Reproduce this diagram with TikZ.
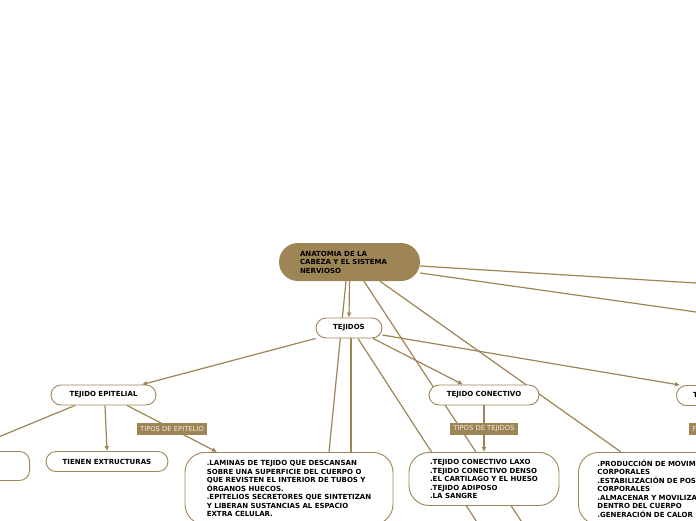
\documentclass[tikz,border=0pt]{standalone}
\usepackage{fontspec}
\setmainfont{DejaVu Sans}
\usetikzlibrary{arrows.meta,backgrounds}
\definecolor{bronze}{HTML}{9E8556}
\definecolor{cream}{HTML}{F1EBDD}

\begin{document}
\begin{tikzpicture}[
    x=1pt, y=-1pt,
    topic/.style={fill=bronze, rounded corners=19pt, align=left, text width=99pt, inner xsep=21pt, minimum height=38pt, font=\bfseries\fontsize{7}{8.5}\selectfont},
    box/.style={draw=bronze, line width=0.9pt, fill=white, rounded corners=10pt, minimum height=20pt, inner sep=2pt, font=\bfseries\fontsize{7}{8.5}\selectfont},
    note/.style={box, rounded corners=20pt, align=left},
    tag/.style={fill=bronze, text=cream, inner xsep=3.5pt, inner ysep=0pt, minimum height=12pt, font=\fontsize{6.8}{8}\selectfont},
    arrow/.style={-{Latex[length=5pt,width=5pt]}, line width=1.2pt, draw=bronze},
    link/.style={line width=1.2pt, draw=bronze}
]
\useasboundingbox (0,0) rectangle (696,520);

\node[topic] (anatomia) at (349.5,262) {ANATOMIA DE LA\\CABEZA Y EL SISTEMA\\NERVIOSO};
\node[box, minimum width=66pt] (tejidos) at (349,328) {TEJIDOS};
\node[box, minimum width=105pt] (epitelial) at (103.5,395) {TEJIDO EPITELIAL};
\node[box, minimum width=110pt] (conectivo) at (484,395) {TEJIDO CONECTIVO};
\node[box, minimum width=106pt, anchor=west] (muscular) at (676,395.5) {TEJIDO MUSCULAR};
\node[box, minimum width=130pt, minimum height=29pt, anchor=north east] (izquierda) at (30,451) {};
\node[box, minimum width=122pt] (tienen) at (107,461.5) {TIENEN EXTRUCTURAS};
\node[note, minimum width=208pt, minimum height=72pt, anchor=north] (laminas) at (289,452)
    {.LAMINAS DE TEJIDO QUE DESCANSAN\\SOBRE UNA SUPERFICIE DEL CUERPO O\\QUE REVISTEN EL INTERIOR DE TUBOS Y\\ÓRGANOS HUECOS.\\.EPITELIOS SECRETORES QUE SINTETIZAN\\Y LIBERAN SUSTANCIAS AL ESPACIO\\EXTRA CELULAR.};
\node[note, minimum width=150pt, minimum height=53pt, anchor=north] (tipos) at (484,452)
    {.TEJIDO CONECTIVO LAXO\\.TEJIDO CONECTIVO DENSO\\.EL CARTILAGO Y EL HUESO\\.TEJIDO ADIPOSO\\.LA SANGRE};
\node[note, text width=170pt, inner xsep=19pt, minimum height=72pt, anchor=north west] (funcion) at (578,452)
    {.PRODUCCIÓN DE MOVIMIENTOS\\CORPORALES\\.ESTABILIZACIÓN DE POSICIONES\\CORPORALES\\.ALMACENAR Y MOVILIZAR SUSTANCIAS\\DENTRO DEL CUERPO\\.GENERACIÓN DE CALOR};

\coordinate (fueraR1) at (720,284.5);
\coordinate (fueraR2) at (720,315.4);
\coordinate (fueraB1) at (482,530);
\coordinate (fueraB2) at (527,530);
\coordinate (fueraM) at (712,452);

\begin{scope}[on background layer]
\fill[white] (0,0) rectangle (696,520);
\draw[arrow] (anatomia.south) -- (tejidos.north);
\draw[link] ([xshift=-3.5pt]anatomia.south) -- ([xshift=40pt]laminas.north);
\draw[link] ([xshift=14.5pt]anatomia.south) -- (fueraB2);
\draw[link] ([xshift=30.5pt]anatomia.south) -- ([xshift=43pt]funcion.north west);
\draw[link] ([yshift=-4pt]anatomia.east) -- (fueraR1);
\draw[link] ([yshift=-11pt]anatomia.east) -- (fueraR2);
\draw[link] ([xshift=2pt]tejidos.south) -- ([xshift=62pt]laminas.north);
\draw[link] ([xshift=9pt]tejidos.south) -- (fueraB1);
\draw[arrow] (tejidos.south west) -- ([xshift=38.5pt]epitelial.north);
\draw[arrow] ([xshift=24pt]tejidos.south) -- ([xshift=-21pt]conectivo.north);
\draw[arrow] ([yshift=-7pt]tejidos.east) -- ([xshift=4pt]muscular.north west);
\draw[arrow] ([xshift=-28.5pt]epitelial.south) -- (izquierda.north);
\draw[arrow] ([xshift=1.5pt]epitelial.south) -- (tienen.north);
\draw[arrow] ([xshift=23.5pt]epitelial.south) -- node[tag] {TIPOS DE EPITELIO} ([xshift=-72pt]laminas.north);
\draw[arrow] (conectivo.south) -- node[tag] {TIPOS DE TEJIDOS} (tipos.north);
\draw[arrow] ([xshift=-17pt]muscular.south) -- node[tag] {FUNCIONES} (fueraM);
\end{scope}
\end{tikzpicture}
\end{document}
